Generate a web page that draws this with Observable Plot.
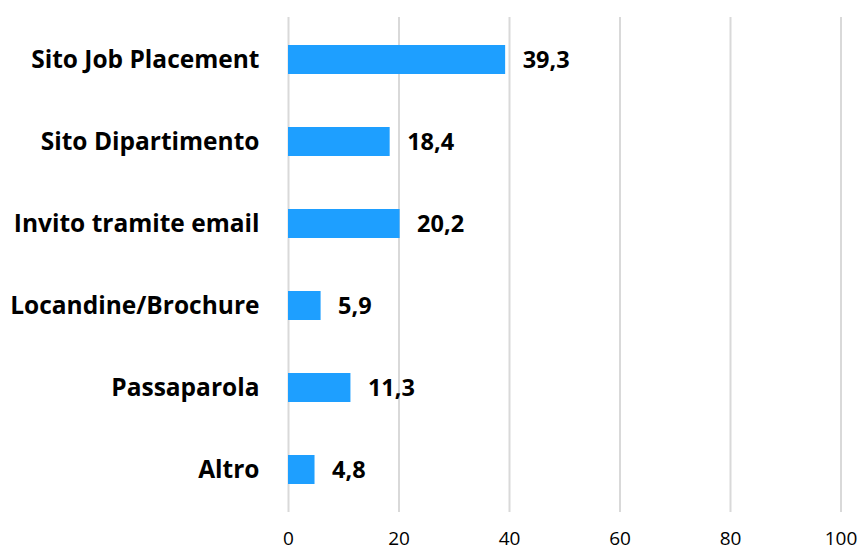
<!DOCTYPE html>
<html><head><meta charset="utf-8">
<script src="https://cdn.jsdelivr.net/npm/d3@7"></script>
<script src="https://cdn.jsdelivr.net/npm/@observablehq/plot@0.6"></script>
<style>body{margin:0;background:#fff;} svg{font-family:"Open Sans",sans-serif;}</style>
</head><body><div id="chart"></div>
<script>
const categories = ["Sito Job Placement","Sito Dipartimento","Invito tramite email","Locandine/Brochure","Passaparola","Altro"];
const values = [39.3, 18.4, 20.2, 5.9, 11.3, 4.8];
const xTicks = [0,20,40,60,80,100];
const data = categories.map((c,i)=>({cat:c, v:values[i]}));
const fmt = v => v.toFixed(1).replace(".", ",");
const chart = Plot.plot({
  width: 863, height: 552,
  marginLeft: 288, marginRight: 22.5, marginTop: 17, marginBottom: 40,
  style: {fontFamily: "'Open Sans', sans-serif", background: "#fff", color: "#000"},
  x: {domain: [0,100], ticks: xTicks},
  y: {domain: categories, paddingInner: 0.65, paddingOuter: 0.325, label: null},
  marks: [
    Plot.gridX(xTicks, {stroke: "#d9d9d9", strokeOpacity: 1, strokeWidth: 2}),
    Plot.barX(data, {x: "v", y: "cat", fill: "#1E9FFF"}),
    Plot.text(data, {x: "v", y: "cat", text: d => fmt(d.v), textAnchor: "start", dx: 17, fontSize: 23.5, fontWeight: "bold", fill: "#000"}),
    Plot.axisX(xTicks, {tickSize: 0, tickPadding: 19, fontSize: 19, label: null, fill: "#000"}),
    Plot.axisY({tickSize: 0, tickPadding: 29, fontSize: 24.5, fontWeight: "bold", label: null, fill: "#000"})
  ]
});
document.getElementById("chart").appendChild(chart);
</script></body></html>
